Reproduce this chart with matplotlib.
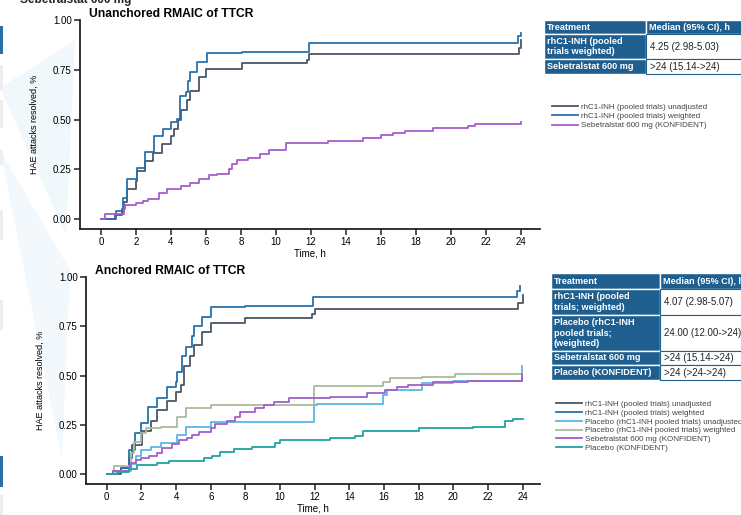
import matplotlib
matplotlib.use("Agg")
import matplotlib.pyplot as plt
from matplotlib.patches import Rectangle, Polygon

plt.rcParams['font.family'] = ['Liberation Sans', 'DejaVu Sans']

# ---- data ----
hours_ticks = list(range(0, 25, 2))
y_ticks = [0.0, 0.25, 0.5, 0.75, 1.0]

# unanchored panel
ua_unadj_t = [0, 0.8, 1.2, 1.3, 1.5, 2.0, 2.05, 2.5, 3.0, 3.5, 4.0, 4.2, 4.4, 4.6, 4.9, 5.1, 5.6, 6.0, 8.06, 11.8, 11.9, 23.9, 24]
ua_unadj_v = [0, 0.02, 0.05, 0.087, 0.15, 0.19, 0.24, 0.29, 0.333, 0.375, 0.417, 0.45, 0.5, 0.55, 0.6, 0.645, 0.713, 0.753, 0.783, 0.80, 0.828, 0.86, 0.9]
ua_wt_t = [0, 0.84, 1.28, 1.47, 2.04, 2.51, 3.03, 3.55, 4.03, 4.32, 4.5, 4.86, 5.0, 5.09, 5.5, 6.04, 8.06, 11.9, 23.85, 24]
ua_wt_v = [0, 0.04, 0.105, 0.2, 0.258, 0.337, 0.417, 0.45, 0.49, 0.505, 0.62, 0.64, 0.695, 0.738, 0.787, 0.835, 0.84, 0.886, 0.92, 0.933]
ua_seb_t = [0, 0.25, 1.3, 1.35, 2.0, 2.4, 2.7, 3.3, 3.8, 4.6, 5.1, 5.6, 6.17, 6.65, 7.3, 7.5, 7.8, 8.4, 9.1, 9.6, 10.55, 13.0, 15.0, 16.0, 16.7, 17.4, 19.0, 21.0, 21.4, 24]
ua_seb_v = [0, 0.025, 0.05, 0.07, 0.08, 0.09, 0.1, 0.13, 0.15, 0.167, 0.183, 0.203, 0.22, 0.228, 0.25, 0.275, 0.295, 0.308, 0.328, 0.347, 0.383, 0.39, 0.405, 0.42, 0.433, 0.44, 0.457, 0.467, 0.478, 0.49]

# anchored panel
an_unadj_t = [0, 0.8, 1.29, 1.48, 2.05, 2.53, 2.92, 3.49, 3.97, 4.26, 4.45, 4.83, 5.02, 5.5, 5.99, 8.0, 11.84, 12.03, 23.73, 24]
an_unadj_v = [0, 0.03, 0.08, 0.148, 0.217, 0.27, 0.325, 0.37, 0.418, 0.45, 0.55, 0.6, 0.653, 0.72, 0.766, 0.79, 0.81, 0.838, 0.87, 0.91]
an_wt_t = [0, 0.33, 0.8, 1.3, 1.6, 2.0, 2.4, 2.9, 3.5, 3.97, 4.07, 4.36, 4.55, 4.93, 5.02, 5.5, 5.99, 8.0, 11.9, 23.7, 23.85]
an_wt_v = [0, 0.017, 0.03, 0.123, 0.207, 0.258, 0.342, 0.384, 0.44, 0.468, 0.52, 0.6, 0.645, 0.70, 0.75, 0.796, 0.847, 0.852, 0.90, 0.93, 0.956]
an_pbo_unadj_t = [0, 0.61, 1.38, 1.67, 1.96, 2.53, 3.1, 4.07, 4.55, 5.99, 11.93, 12.12, 15.96, 16.16, 18.17, 20.0, 23.95]
an_pbo_unadj_v = [0, 0.014, 0.05, 0.093, 0.123, 0.14, 0.157, 0.199, 0.237, 0.263, 0.35, 0.358, 0.40, 0.426, 0.46, 0.471, 0.55]
an_pbo_wt_t = [0, 0.42, 1.38, 1.57, 1.96, 2.24, 3.1, 4.07, 4.55, 5.99, 11.93, 15.96, 16.35, 18.17, 20.1, 23.95]
an_pbo_wt_v = [0, 0.04, 0.106, 0.165, 0.207, 0.232, 0.24, 0.291, 0.333, 0.35, 0.448, 0.465, 0.488, 0.493, 0.508, 0.52]
an_seb_t = [0, 0.33, 1.29, 1.38, 1.67, 1.96, 2.43, 2.92, 3.2, 3.78, 4.16, 4.64, 4.93, 5.31, 5.99, 6.27, 6.94, 7.42, 7.71, 8.58, 9.06, 9.63, 10.5, 12.9, 15.0, 16.06, 16.73, 17.4, 18.84, 20.85, 23.95]
an_seb_v = [0, 0.017, 0.034, 0.055, 0.07, 0.08, 0.094, 0.106, 0.131, 0.151, 0.173, 0.182, 0.2, 0.216, 0.232, 0.253, 0.27, 0.29, 0.316, 0.333, 0.35, 0.367, 0.384, 0.39, 0.41, 0.426, 0.44, 0.451, 0.465, 0.473, 0.51]
an_pbo_k_t = [0, 0.61, 1.29, 1.77, 2.92, 3.59, 5.6, 6.08, 6.56, 7.33, 8.38, 9.73, 10.0, 12.9, 14.33, 14.8, 18.0, 21.14, 22.96, 23.44, 24]
an_pbo_k_v = [0, 0.01, 0.028, 0.045, 0.055, 0.067, 0.081, 0.094, 0.111, 0.128, 0.14, 0.157, 0.173, 0.185, 0.195, 0.219, 0.232, 0.241, 0.27, 0.28, 0.28]

lbl_unadj = "rhC1-INH (pooled trials) unadjusted"
lbl_wt = "rhC1-INH (pooled trials) weighted"
lbl_pbo_unadj = "Placebo (rhC1-INH pooled trials) unadjusted"
lbl_pbo_wt = "Placebo (rhC1-INH pooled trials) weighted"
lbl_seb = "Sebetralstat 600 mg (KONFIDENT)"
lbl_pbo_k = "Placebo (KONFIDENT)"

top_table = [["rhC1-INH (pooled\ntrials weighted)", "4.25 (2.98-5.03)"],
             ["Sebetralstat 600 mg", ">24 (15.14->24)"]]
bot_table = [["rhC1-INH (pooled\ntrials; weighted)", "4.07 (2.98-5.07)"],
             ["Placebo (rhC1-INH\npooled trials;\n(weighted)", "24.00 (12.00->24)"],
             ["Sebetralstat 600 mg", ">24 (15.14->24)"],
             ["Placebo (KONFIDENT)", ">24 (>24->24)"]]

# colours
c_unadj = '#4b5666'
c_wt = '#2872ad'
c_pbo_unadj = '#5ab6e8'
c_pbo_wt = '#a9bb9d'
c_seb = '#a35fcc'
c_pbo_k = '#1ea3a3'
c_hdr = '#1f5f8f'

W, H = 741, 515
fig = plt.figure(figsize=(W / 100, H / 100), dpi=100)


def fx(x):
    return x / W


def fy(y):
    return 1 - y / H


# background "zoom" wedges and side bars
fig.add_artist(Polygon([(fx(0), fy(88)), (fx(75), fy(40)), (fx(66), fy(235))],
                       closed=True, transform=fig.transFigure, color='#d5ebf7', alpha=0.35, lw=0, zorder=0))
fig.add_artist(Polygon([(fx(0), fy(150)), (fx(70), fy(270)), (fx(62), fy(460))],
                       closed=True, transform=fig.transFigure, color='#d5ebf7', alpha=0.3, lw=0, zorder=0))
for y0, y1, col in [(26, 54, '#2a6fa8'), (65, 90, '#eeeeee'), (100, 128, '#eeeeee'), (150, 165, '#eeeeee'),
                    (210, 240, '#eeeeee'), (300, 330, '#eeeeee'), (456, 487, '#2a6fa8'), (495, 515, '#eeeeee')]:
    fig.add_artist(Rectangle((0, fy(y1)), fx(3), (y1 - y0) / H, transform=fig.transFigure,
                             color=col, lw=0, zorder=0))
fig.text(fx(20), 1.0, "Sebetralstat 600 mg", fontsize=8.5, fontweight='bold', va='center', ha='left', color='#222222')


def style_axis(ax, title):
    ax.set_facecolor('none')
    for s in ['top', 'right']:
        ax.spines[s].set_visible(False)
    for s in ['left', 'bottom']:
        ax.spines[s].set_linewidth(1.3)
        ax.spines[s].set_color('#222222')
    ax.set_xlim(-1.2, 25.1)
    ax.set_ylim(-0.05, 1.0)
    ax.set_xticks(hours_ticks)
    ax.set_yticks(y_ticks)
    ax.set_yticklabels([f"{v:.2f}" for v in y_ticks])
    ax.tick_params(labelsize=7, length=4, width=1.1, color='#222222', pad=2)
    ax.set_xlabel("Time, h", fontsize=7, labelpad=1)
    ax.set_ylabel("HAE attacks resolved, %", fontsize=6.5, labelpad=10)
    ax.set_title(title, fontsize=8.7, fontweight='bold', loc='left', pad=2, x=0.02)


ax1 = fig.add_axes([fx(80), fy(229), fx(540) - fx(80), (229 - 20) / H])
ax1.step(ua_unadj_t, ua_unadj_v, where='post', color=c_unadj, lw=1.3, label=lbl_unadj)
ax1.step(ua_wt_t, ua_wt_v, where='post', color=c_wt, lw=1.3, label=lbl_wt)
ax1.step(ua_seb_t, ua_seb_v, where='post', color=c_seb, lw=1.3, label=lbl_seb)
style_axis(ax1, "Unanchored RMAIC of TTCR")
ax1.legend(loc='upper left', bbox_to_anchor=(fx(549), fy(100)), bbox_transform=fig.transFigure,
           frameon=False, fontsize=5.8, handlelength=3.2, handletextpad=0.4, labelspacing=0.2,
           borderaxespad=0, labelcolor='#444444')

ax2 = fig.add_axes([fx(86), fy(484), fx(540) - fx(86), (484 - 277) / H])
ax2.step(an_unadj_t, an_unadj_v, where='post', color=c_unadj, lw=1.3, label=lbl_unadj)
ax2.step(an_wt_t, an_wt_v, where='post', color=c_wt, lw=1.3, label=lbl_wt)
ax2.step(an_pbo_unadj_t, an_pbo_unadj_v, where='post', color=c_pbo_unadj, lw=1.3, label=lbl_pbo_unadj)
ax2.step(an_pbo_wt_t, an_pbo_wt_v, where='post', color=c_pbo_wt, lw=1.3, label=lbl_pbo_wt)
ax2.step(an_seb_t, an_seb_v, where='post', color=c_seb, lw=1.3, label=lbl_seb)
ax2.step(an_pbo_k_t, an_pbo_k_v, where='post', color=c_pbo_k, lw=1.3, label=lbl_pbo_k)
style_axis(ax2, "Anchored RMAIC of TTCR")
ax2.set_xlim(-1.2, 25.0)
ax2.legend(loc='upper left', bbox_to_anchor=(fx(553), fy(397)), bbox_transform=fig.transFigure,
           frameon=False, fontsize=5.8, handlelength=3.2, handletextpad=0.4, labelspacing=0.15,
           borderaxespad=0, labelcolor='#444444')


def draw_table(x0, xsplit, x1, row_edges, rows):
    # header
    hdr = [("Treatment", x0, xsplit), ("Median (95% CI), h", xsplit, x1)]
    for txt, a, b in hdr:
        fig.add_artist(Rectangle((fx(a), fy(row_edges[1])), fx(b) - fx(a), (row_edges[1] - row_edges[0]) / H,
                                 transform=fig.transFigure, facecolor=c_hdr, edgecolor='white', lw=1.0))
        fig.text(fx(a + 3), fy((row_edges[0] + row_edges[1]) / 2), txt, color='white', fontsize=6.6,
                 fontweight='bold', va='center', ha='left')
    for i, (name, med) in enumerate(rows):
        top, bot = row_edges[i + 1], row_edges[i + 2]
        fig.add_artist(Rectangle((fx(x0), fy(bot)), fx(xsplit) - fx(x0), (bot - top) / H,
                                 transform=fig.transFigure, facecolor=c_hdr, edgecolor='white', lw=1.0))
        fig.add_artist(Rectangle((fx(xsplit), fy(bot)), fx(x1) - fx(xsplit), (bot - top) / H,
                                 transform=fig.transFigure, facecolor='white', edgecolor=c_hdr, lw=0.8))
        fig.text(fx(x0 + 3), fy((top + bot) / 2), name, color='white', fontsize=6.6, fontweight='bold',
                 va='center', ha='left', linespacing=1.2)
        fig.text(fx(xsplit + 4), fy((top + bot) / 2), med, color='#222222', fontsize=7,
                 va='center', ha='left')


draw_table(544, 646, 745, [20, 34, 59, 74], top_table)
draw_table(551, 660, 760, [273, 289, 315, 351, 365, 380], bot_table)

fig.savefig("out.png", dpi=100)
